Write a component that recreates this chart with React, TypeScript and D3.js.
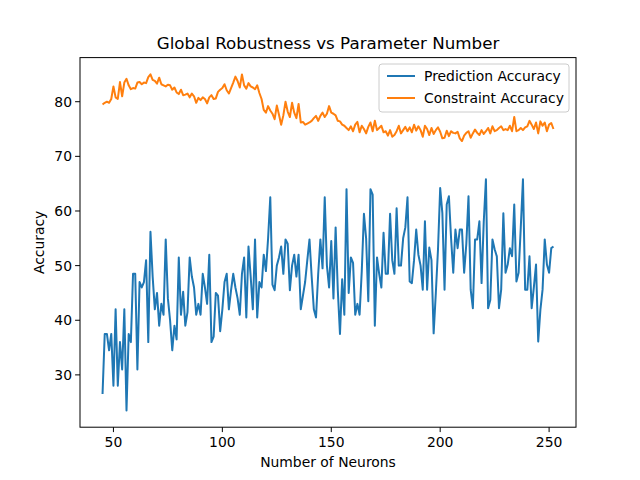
import React from 'react';
import * as d3 from 'd3';

const startNeurons = 45;

// Prediction accuracy, one value per neuron count (45..252)
const prediction = [
  26.5, 37.5, 37.5, 34.5, 37.5, 28, 42, 28, 36, 31,
  42, 23.5, 37.5, 36, 48.5, 48.5, 31, 47, 46, 47,
  51, 36, 56.2, 48, 42, 45, 39, 43, 41, 54.8,
  44, 40, 34.5, 39, 36.5, 51.5, 41, 45.2, 39, 41.5,
  51.5, 48, 46, 41, 43, 41, 48.5, 46, 43, 52,
  36, 37, 45, 44.5, 38, 42, 47, 48.5, 42, 45.5, 48.5, 46,
  44, 41, 48.5, 51.5, 40.5, 53.5, 48, 42, 54.8, 40.5, 47, 46,
  52, 49, 55, 62.5, 46.5, 45.5, 50, 51.5, 53.5, 48.5,
  54.8, 54, 45.5, 50, 52, 48, 52, 42, 44.5,
  47, 51, 54.8, 48, 42, 40.5, 48.5, 54.8, 49.5,
  62.5, 50, 46, 54.5, 44, 57, 45.5, 37.5,
  47.5, 41, 64, 45, 51.5, 50.5, 41, 43,
  41, 49, 59.5, 55, 43.5, 64, 63, 39,
  51.5, 48.5, 46, 56, 48.5, 48.5, 59.5, 51, 48.5, 60.5,
  50, 50, 55, 57, 62.5,
  47.1, 46.8, 51, 56.6, 52, 50, 45.6, 58.1, 45.6, 53.3,
  51, 37.6, 45, 53, 64.2, 59.6, 45.6, 61.2, 62.7, 55,
  48.7, 56.6, 53.2, 56.6, 56.6, 48.7, 54, 62.7, 45.6, 42.2,
  54.8, 54.8, 58.1, 46.8, 58, 65.8, 42.2, 43.7, 54.8, 53,
  51.7, 42.2, 45.6, 59.6, 48.7, 50.2, 53.2, 51.7, 61.2, 47.1,
  48.7, 57, 65.8, 45.6, 45.6, 51.7, 42.2, 46, 50.2, 36.1,
  41.9, 45.6, 54.8, 50.2, 48.7, 53.2, 53.5,
];

// Constraint accuracy, same neuron counts
const constraint = [
  79.5, 79.8, 80, 79.8, 80.5, 82.8, 80.8, 80.5, 83.6, 81,
  83.5, 84.2, 83, 82.3, 82.5, 82.4, 83.5, 83.6, 83.2, 83.5,
  83.4, 84.5, 85, 84, 83.8, 83.3, 84.4, 83.2, 83, 82.8,
  83.1, 83, 82.2, 82.6, 81.7, 81.4, 82.2, 81.2, 81.3, 81.5,
  80.8, 81.5, 81, 79.8, 80.7, 80.3, 80.8, 80.5,
  79.7, 80.8, 81.2, 80.5, 80.6, 81.8, 82.2, 82.5,
  83.2, 82.1, 81.5, 82.5, 83.5, 84.6, 83.8, 82.6,
  85, 83, 82.4, 83.4, 82.8, 82.6, 82.3, 83, 81.6, 80.5,
  78.5, 78, 79.2, 78.4, 77.8, 76.8, 79.3, 77.6, 75.8, 77.5,
  80, 78.2, 77.2, 79.8, 78, 77, 79.6, 76.2, 76.3, 75.8,
  76, 76.2, 76.5, 77, 77.4, 76.5, 77.4, 78, 77.2,
  77.8, 79.2, 78, 77.8, 77.5, 76.5, 76.4, 75.8, 75.6,
  75.2, 74.8, 75.5, 74.6, 75.8, 76.3, 74.4, 75.6, 75,
  74.2, 75.4, 76.2, 74.6, 76.5, 74.8, 75.2, 75.6, 74.4,
  74.6, 73.8, 74.8, 73.6, 73.9, 74.6, 75.6, 74.2, 74.8,
  75.4, 74.6, 75.3, 74.4, 75.8, 74.7, 75.5, 74.8, 73.6,
  75.6, 75, 73.9, 75.2, 74.1, 74.8, 75.3, 74.5, 73.3,
  73.4, 74.7, 73.7, 74.6, 74.3, 74.2, 74.5, 73.3, 72.8,
  73.8, 74.3, 74.6, 73.4, 74.2, 74.9, 74.3, 73.9, 74.8, 74.1,
  74.6, 75.2, 74.2, 75.5, 74.6, 74.8, 75.2, 75.5, 74.8,
  75, 74.8, 75.6, 74.6, 77.2, 74.6, 74.8, 75.2, 74.8, 75.3,
  75.5, 76.5, 75.8, 75, 76.2, 74.2, 76.4, 75.6, 76.2, 74.6,
  75.8, 76.1, 75,
];

const legendLabels = ['Prediction Accuracy', 'Constraint Accuracy'];
const colors = ['#1f77b4', '#ff7f0e'];
const xTicks = [50, 100, 150, 200, 250];
const yTicks = [30, 40, 50, 60, 70, 80];

export default function App() {
  const width = 640;
  const height = 480;
  const left = 80, right = 576, top = 57.6, bottom = 427.2;
  const n = Math.min(prediction.length, constraint.length);
  const xs = d3.range(n).map((i) => startNeurons + i);
  const all = [...prediction.slice(0, n), ...constraint.slice(0, n)];
  const [x0, x1] = d3.extent(xs) as [number, number];
  const [y0, y1] = d3.extent(all) as [number, number];
  const xm = (x1 - x0) * 0.05, ym = (y1 - y0) * 0.05;
  const x = d3.scaleLinear().domain([x0 - xm, x1 + xm]).range([left, right]);
  const y = d3.scaleLinear().domain([y0 - ym, y1 + ym]).range([bottom, top]);
  const line = d3.line<number>().x((_, i) => x(xs[i])).y((d) => y(d));
  const series = [prediction.slice(0, n), constraint.slice(0, n)];
  const font = 'DejaVu Sans, sans-serif';

  return (
    <svg width={width} height={height} style={{ position: 'absolute', left: 0, top: 0, background: '#fff' }} fontFamily={font}>
      <text x={(left + right) / 2} y={49} textAnchor="middle" fontSize={16.7}>Global Robustness vs Parameter Number</text>
      {series.map((s, k) => (
        <path key={k} d={line(s) ?? ''} fill="none" stroke={colors[k]} strokeWidth={2} strokeLinejoin="round" />
      ))}
      <rect x={left} y={top} width={right - left} height={bottom - top} fill="none" stroke="#000" strokeWidth={1} />
      {xTicks.map((t) => (
        <g key={t}>
          <line x1={x(t)} x2={x(t)} y1={bottom} y2={bottom + 4.9} stroke="#000" strokeWidth={1} />
          <text x={x(t)} y={bottom + 20} textAnchor="middle" fontSize={13.9}>{t}</text>
        </g>
      ))}
      {yTicks.map((t) => (
        <g key={t}>
          <line x1={left - 4.9} x2={left} y1={y(t)} y2={y(t)} stroke="#000" strokeWidth={1} />
          <text x={left - 8} y={y(t) + 5} textAnchor="end" fontSize={13.9}>{t}</text>
        </g>
      ))}
      <text x={(left + right) / 2} y={467} textAnchor="middle" fontSize={13.9}>Number of Neurons</text>
      <text transform={`translate(44, ${(top + bottom) / 2}) rotate(-90)`} textAnchor="middle" fontSize={13.9}>Accuracy</text>
      <g transform="translate(379, 64)">
        <rect width={190} height={48} rx={3} fill="#fff" fillOpacity={0.8} stroke="#ccc" />
        {legendLabels.map((l, i) => (
          <g key={l} transform={`translate(8, ${12 + i * 22})`}>
            <line x1={0} x2={28} y1={0} y2={0} stroke={colors[i]} strokeWidth={2} />
            <text x={37} y={5} fontSize={13.9}>{l}</text>
          </g>
        ))}
      </g>
    </svg>
  );
}
